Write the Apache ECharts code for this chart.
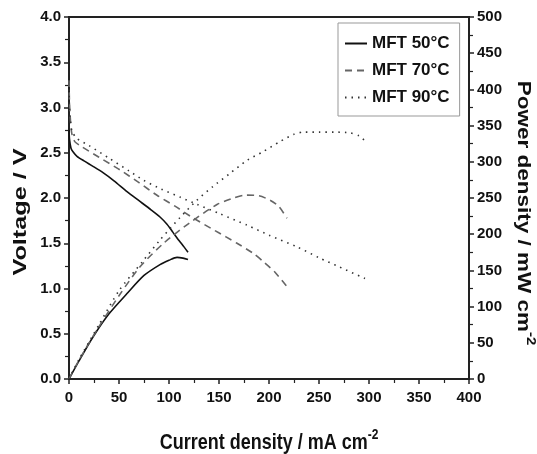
<!DOCTYPE html>
<html><head><meta charset="utf-8">
<script src="https://cdn.jsdelivr.net/npm/echarts@6/dist/echarts.min.js"></script>
<style>html,body{margin:0;padding:0;background:#fff}#c{width:537px;height:454px}</style>
</head><body><div id="c"></div>
<script>
// Voltage curves (current density mA/cm2, voltage V)
const vCurA = [0, 0.5, 2, 4, 8, 15, 24, 34, 45, 58, 70, 82, 91, 98, 104, 110, 115, 119];
const vA    = [2.75, 2.65, 2.55, 2.51, 2.46, 2.41, 2.35, 2.28, 2.19, 2.07, 1.97, 1.87, 1.79, 1.71, 1.62, 1.53, 1.46, 1.40];
const vCurB = [0, 0.5, 1.5, 3, 6, 11, 30, 51, 70, 88, 106, 124, 146, 168, 184, 194, 206, 218];
const vB    = [3.30, 3.05, 2.85, 2.70, 2.62, 2.58, 2.45, 2.31, 2.17, 2.03, 1.91, 1.78, 1.64, 1.50, 1.39, 1.30, 1.18, 1.02];
const vCurC = [0, 0.5, 1.5, 3, 7.7, 20, 40, 60, 74, 92, 111, 128, 150, 178, 200, 228, 250, 270, 296];
const vC    = [3.20, 3.00, 2.85, 2.74, 2.66, 2.58, 2.44, 2.30, 2.20, 2.10, 2.01, 1.93, 1.83, 1.70, 1.59, 1.46, 1.34, 1.24, 1.11];
// Power density curves (current density, mW/cm2)
const pCurA = [0, 10, 24, 40, 58, 75, 91, 100, 108, 114, 119];
const pA    = [0, 25, 58, 90, 118, 143, 158, 164, 168, 167, 165];
const pCurB = [0, 10, 28, 50, 71, 95, 120, 148, 165, 176, 190, 201, 210, 218];
const pB    = [0, 26, 68, 115, 155, 188, 215, 241, 250, 254, 253, 247, 238, 222];
const pCurC = [0, 10, 30, 50, 74, 91, 111, 128, 144, 161, 178, 194, 211, 225, 234, 250, 265, 281, 290, 296];
const pC    = [0, 27, 75, 122, 163, 192, 223, 247, 266, 284, 302, 314, 328, 338, 341, 341, 341, 340, 336, 329];
const names = ['MFT 50°C', 'MFT 70°C', 'MFT 90°C'];
const xTitle = 'Current density / mA cm';
const yTitle = 'Voltage / V';
const y2Title = 'Power density / mW cm';
const unitSup = '-2';

const zip = (a, b) => a.map((x, i) => [x, b[i]]);
const FONT = 'Liberation Sans';
const NARROW = '"Liberation Sans Narrow", "Liberation Sans"';
const styles = [
  {color: '#111', type: 'solid', width: 1.6},
  {color: '#666', type: [7, 5], width: 1.6},
  {color: '#333', type: [1.5, 5], width: 1.6}
];
const vData = [zip(vCurA, vA), zip(vCurB, vB), zip(vCurC, vC)];
const pData = [zip(pCurA, pA), zip(pCurB, pB), zip(pCurC, pC)];
const series = [];
for (let k = 0; k < 3; k++) {
  series.push({name: names[k], type: 'line', yAxisIndex: 0, data: vData[k], showSymbol: false, symbol: 'none', smooth: 0.25,
    lineStyle: styles[k], itemStyle: {color: styles[k].color}});
  series.push({name: names[k], type: 'line', yAxisIndex: 1, data: pData[k], showSymbol: false, symbol: 'none', smooth: 0.25,
    lineStyle: styles[k], itemStyle: {color: styles[k].color}});
}
const axisCommon = {
  axisLine: {show: true, onZero: false, lineStyle: {color: '#222', width: 2}},
  axisTick: {show: true, inside: false, length: 5, lineStyle: {color: '#222', width: 1.5}},
  minorTick: {show: true, splitNumber: 2, length: 4, lineStyle: {color: '#222', width: 1.2}},
  splitLine: {show: false},
  axisLabel: {color: '#111', fontFamily: NARROW, fontWeight: 'bold', fontSize: 15}
};
const titleFont = 'bold 18px ' + FONT;
const supFont = 'bold 12px ' + FONT;
const chart = echarts.init(document.getElementById('c'), null, {renderer: 'canvas'});
chart.setOption({
  animation: false,
  backgroundColor: '#fff',
  grid: {left: 69, right: 68, top: 17, bottom: 75, containLabel: false, outerBoundsMode: 'none',
    show: true, borderColor: '#222', borderWidth: 2},
  legend: {
    data: names,
    orient: 'vertical', left: 338, top: 23, width: 122,
    padding: [12, 10, 10, 6], itemGap: 10, itemWidth: 22, itemHeight: 14,
    itemStyle: {color: 'transparent', borderWidth: 0, opacity: 0},
    borderColor: '#999', borderWidth: 1, backgroundColor: '#fff',
    textStyle: {fontFamily: FONT, fontWeight: 'bold', fontSize: 17, color: '#111'}
  },
  graphic: [
    {type: 'text', x: 269, y: 441, scaleY: 1.2, style: {
      text: '{n|' + xTitle + '}{s|' + unitSup + '}', align: 'center', verticalAlign: 'middle', fill: '#111',
      rich: {n: {font: titleFont, fill: '#111', verticalAlign: 'bottom'},
             s: {font: supFont, fill: '#111', verticalAlign: 'top', padding: [0, 0, 10, 0]}}}},
    {type: 'text', x: 21, y: 212, rotation: Math.PI / 2, scaleX: 1.4, style: {
      text: yTitle, font: titleFont, align: 'center', verticalAlign: 'middle', fill: '#111'}},
    {type: 'text', x: 525, y: 213, rotation: -Math.PI / 2, scaleX: 1.25, style: {
      text: '{n|' + y2Title + '}{s|' + unitSup + '}', align: 'center', verticalAlign: 'middle', fill: '#111',
      rich: {n: {font: titleFont, fill: '#111', verticalAlign: 'bottom'},
             s: {font: supFont, fill: '#111', verticalAlign: 'top', padding: [0, 0, 10, 0]}}}}
  ],
  xAxis: Object.assign({}, axisCommon, {
    type: 'value', min: 0, max: 400, interval: 50,
    axisLabel: Object.assign({}, axisCommon.axisLabel, {margin: 11})
  }),
  yAxis: [
    Object.assign({}, axisCommon, {
      type: 'value', min: 0, max: 4, interval: 0.5,
      axisLabel: Object.assign({}, axisCommon.axisLabel, {margin: 8, formatter: v => v.toFixed(1)})
    }),
    Object.assign({}, axisCommon, {
      type: 'value', min: 0, max: 500, interval: 50, position: 'right',
      axisLabel: Object.assign({}, axisCommon.axisLabel, {margin: 8})
    })
  ],
  series: series
});
</script></body></html>
